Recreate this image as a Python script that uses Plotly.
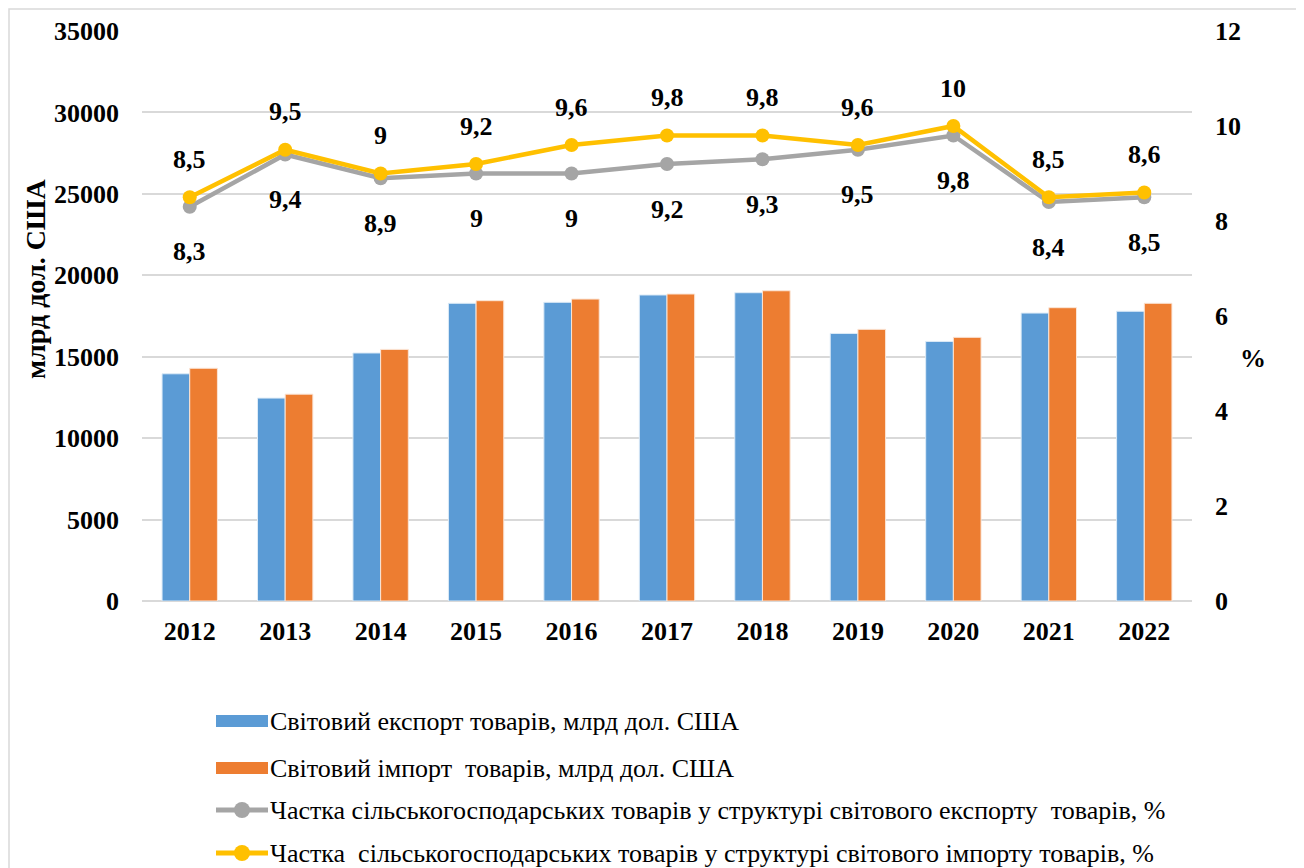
import plotly.graph_objects as go

# data
years = ["2012", "2013", "2014", "2015", "2016", "2017", "2018", "2019", "2020", "2021", "2022"]
world_export = [13950, 12460, 15230, 18280, 18340, 18790, 18930, 16430, 15940, 17680, 17790]
world_import = [14290, 12700, 15450, 18440, 18540, 18850, 19050, 16680, 16190, 18010, 18280]
agri_export_share = [8.3, 9.4, 8.9, 9, 9, 9.2, 9.3, 9.5, 9.8, 8.4, 8.5]
agri_import_share = [8.5, 9.5, 9, 9.2, 9.6, 9.8, 9.8, 9.6, 10, 8.5, 8.6]

legend_names = [
    "Світовий експорт товарів, млрд дол. США",
    "Світовий імпорт  товарів, млрд дол. США",
    "Частка сільськогосподарських товарів у структурі світового експорту  товарів, %",
    "Частка  сільськогосподарських товарів у структурі світового імпорту товарів, %",
]

BLUE = "#5B9BD5"
ORANGE = "#ED7D31"
GRAY = "#A5A5A5"
YELLOW = "#FFC000"
FONT = "Liberation Serif"

# the page puts the figure 8px in from the top-left corner
OFF = 8
W, H = 1296, 868
L, R, T, B = 142 - OFF, 1192 - OFF, 31 - OFF, 601 - OFF


def px(x):
    return (x - OFF - L) / (R - L)


def py(y):
    return (B - (y - OFF)) / (B - T)


def fmt(v):
    return f"{v:g}".replace(".", ",")


fig = go.Figure()

fig.add_trace(go.Bar(x=years, y=world_export, marker=dict(color=BLUE, line=dict(color="#DDEBF7", width=1)),
                     name=legend_names[0]))
fig.add_trace(go.Bar(x=years, y=world_import, marker=dict(color=ORANGE, line=dict(color="#FBE5D6", width=1)),
                     name=legend_names[1]))
fig.add_trace(go.Scatter(x=years, y=agri_export_share, yaxis="y2", mode="lines+markers",
                         line=dict(color=GRAY, width=4.5), marker=dict(size=14, color=GRAY),
                         name=legend_names[2]))
fig.add_trace(go.Scatter(x=years, y=agri_import_share, yaxis="y2", mode="lines+markers",
                         line=dict(color=YELLOW, width=4.5), marker=dict(size=14, color=YELLOW),
                         name=legend_names[3]))

# data labels (x given as category index)
lab_font = dict(family=FONT, size=26, color="black", weight="bold")
for i, v in enumerate(agri_import_share):
    fig.add_annotation(x=i, y=v, yref="y2", text=fmt(v), showarrow=False, yshift=38, font=lab_font)
for i, v in enumerate(agri_export_share):
    fig.add_annotation(x=i, y=v, yref="y2", text=fmt(v), showarrow=False, yshift=-45, font=lab_font)

# hand-drawn legend
shapes = []
leg_rows = [721, 768, 810, 853]
for i, (name, yy) in enumerate(zip(legend_names, leg_rows)):
    if i < 2:
        col = BLUE if i == 0 else ORANGE
        shapes.append(dict(type="rect", xref="paper", yref="paper", x0=px(216), x1=px(268),
                           y0=py(yy + 6), y1=py(yy - 6), fillcolor=col, line=dict(width=0)))
    else:
        col = GRAY if i == 2 else YELLOW
        shapes.append(dict(type="line", xref="paper", yref="paper", x0=px(216), x1=px(268),
                           y0=py(yy), y1=py(yy), line=dict(color=col, width=5)))
        shapes.append(dict(type="circle", xref="paper", yref="paper", x0=px(234), x1=px(250),
                           y0=py(yy + 8), y1=py(yy - 8), fillcolor=col, line=dict(color=col, width=0)))
    fig.add_annotation(xref="paper", yref="paper", x=px(268), y=py(yy), text=name, showarrow=False,
                       xanchor="left", yanchor="middle", font=dict(family=FONT, size=26, color="black"))

# outer frame
shapes.append(dict(type="rect", xref="paper", yref="paper", x0=px(9), x1=px(1297), y0=py(875), y1=py(9),
                   line=dict(color="#D9D9D9", width=1.5), layer="below"))

fig.add_annotation(xref="paper", yref="paper", x=px(1268), y=py(358), text="%", showarrow=False,
                   font=dict(family=FONT, size=26, color="black", weight="bold"))
fig.add_annotation(xref="paper", yref="paper", x=px(35), y=py(279), text="млрд дол. США", showarrow=False,
                   textangle=-90, xanchor="center", yanchor="middle",
                   font=dict(family=FONT, size=28, color="black", weight="bold"))

tick_font = dict(family=FONT, size=26, color="black", weight="bold")
fig.update_layout(
    width=W, height=H,
    margin=dict(l=L, r=W - R, t=T, b=H - B, autoexpand=False),
    paper_bgcolor="white", plot_bgcolor="white",
    barmode="group", bargap=0.42, bargroupgap=0.0,
    showlegend=False,
    shapes=shapes,
    xaxis=dict(type="category", range=[-0.5, len(years) - 0.5], autorange=False, tickfont=tick_font,
               showgrid=False, showline=False, ticks="", ticklabelstandoff=12),
    yaxis=dict(range=[0, 35000], dtick=5000, tickformat="d", tickfont=tick_font, gridcolor="#D9D9D9",
               gridwidth=1.5, zeroline=True, zerolinecolor="#D9D9D9", zerolinewidth=1.5,
               ticklabelstandoff=22),
    yaxis2=dict(range=[0, 12], dtick=2, overlaying="y", side="right", showgrid=False, zeroline=False,
                tickfont=tick_font, ticklabelstandoff=22),
)

fig.write_html("out.html")
